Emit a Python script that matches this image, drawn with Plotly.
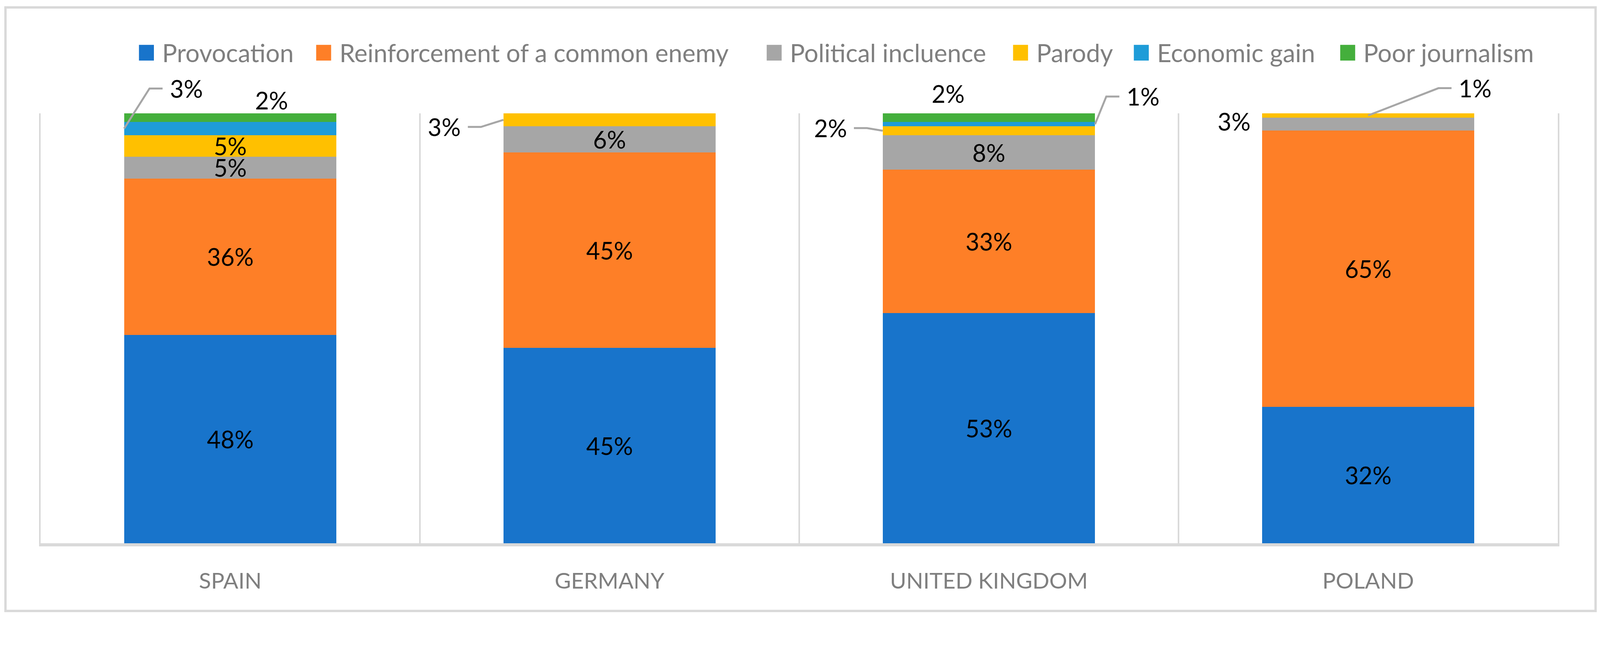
import plotly.graph_objects as go

# data (percent of cases per country)
countries = ["SPAIN", "GERMANY", "UNITED KINGDOM", "POLAND"]
motives = ["Provocation", "Reinforcement of a common enemy", "Political incluence",
           "Parody", "Economic gain", "Poor journalism"]
provocation = [48, 45, 53, 32]
reinforcement = [36, 45, 33, 65]
political = [5, 6, 8, 3]
parody = [5, 3, 2, 1]
economic = [3, 0, 1, 0]
poor_journalism = [2, 0, 2, 0]

series = [provocation, reinforcement, political, parody, economic, poor_journalism]
colors = ["#1874CB", "#FE7F27", "#A6A6A6", "#FFC000", "#1E9CD8", "#44AF3C"]

# labels drawn outside the bars: (series, country) -> (edge, dx, dy, leader line)
outside = {
    (4, 0): ("left", 166, -107, True),
    (5, 0): ("center", 110, -47, False),
    (3, 1): ("left", -158, 19, True),
    (3, 2): ("left", -140, -7, True),
    (4, 2): ("right", 128, -74, True),
    (5, 2): ("center", -109, -64, False),
    (2, 3): ("center", -359, -7, False),
    (3, 3): ("center", 286, -73, True),
}

# layout is measured on the 4279x1658 picture; k maps it to page pixels,
# OFF is the page's body margin
k = 0.957
OFF = 8


def fx(p):
    return p * k - OFF


W, H = fx(4279), fx(1658)
ML, MT = fx(109), fx(303)
pw, ph = (4167 - 109) * k, (1452 - 303) * k
MR, MB = W - ML - pw, H - MT - ph
bargap = 0.44
half_bar = pw / len(countries) * (1 - bargap) / 2
font = "Lato"
grid = "#D9D9D9"
leader = "#A6A6A6"
label_size = round(64 * k)


def px_x(p):
    return (fx(p) - ML) / pw


def px_y(p):
    return 1 + (MT - fx(p)) / ph


fig = go.Figure()
for i, (name, vals) in enumerate(zip(motives, series)):
    txt = []
    for j, v in enumerate(vals):
        txt.append("" if v == 0 or (i, j) in outside else f"{v}%")
    fig.add_trace(go.Bar(x=countries, y=vals, name=name, marker_color=colors[i],
                         marker_line_width=0, text=txt, textposition="inside",
                         insidetextanchor="middle", showlegend=False,
                         textfont=dict(size=label_size, color="black", family=font)))

# segment centres in normalised percent
totals = [sum(s[j] for s in series) for j in range(len(countries))]
annotations = []
shapes = []
for (i, j), (edge, dx, dy, has_leader) in outside.items():
    below = sum(series[n][j] for n in range(i))
    yc = (below + series[i][j] / 2) / totals[j] * 100
    tip = {"left": -half_bar, "right": half_bar, "center": 0}[edge]
    dx, dy = dx * k, dy * k
    annotations.append(dict(x=countries[j], y=yc, text=f"{series[i][j]}%", showarrow=False,
                            xshift=tip + dx, yshift=-dy,
                            font=dict(size=label_size, color="black", family=font)))
    if has_leader:
        # paper refs so the leader is not clipped at the top of the plot area
        side = -1 if dx > 0 else 1
        x_end = tip + dx + side * 63 * k
        x_start = tip + dx + side * 98 * k
        shapes.append(dict(type="path", xref="paper", yref="paper", xsizemode="pixel",
                           ysizemode="pixel", xanchor=(j + 0.5) / len(countries),
                           yanchor=yc / 100,
                           path=f"M {tip:.1f},0 L {x_start:.1f},{-dy:.1f} L {x_end:.1f},{-dy:.1f}",
                           line=dict(color=leader, width=5)))

# legend drawn by hand so the swatches can be as large as in the original
legend_x = [372, 846, 2051, 2710, 3033, 3585]
for name, col, x0 in zip(motives, colors, legend_x):
    shapes.append(dict(type="rect", xref="paper", yref="paper",
                       x0=px_x(x0), x1=px_x(x0 + 40), y0=px_y(162), y1=px_y(120),
                       fillcolor=col, line_width=0))
    annotations.append(dict(xref="paper", yref="paper", x=px_x(x0 + 60), y=px_y(141),
                            xanchor="left", yanchor="middle", text=name, showarrow=False,
                            font=dict(size=round(67 * k), color="#7F7F7F", family=font)))

# chart frame
shapes.append(dict(type="rect", xref="paper", yref="paper",
                   x0=px_x(15), x1=px_x(4268), y0=px_y(1633), y1=px_y(20),
                   line=dict(color=grid, width=6), layer="below"))

fig.update_layout(
    barmode="stack", barnorm="percent", bargap=bargap,
    width=round(W), height=round(H),
    margin=dict(l=ML, r=MR, t=MT, b=MB, autoexpand=False),
    plot_bgcolor="white", paper_bgcolor="white",
    font=dict(family=font),
    annotations=annotations, shapes=shapes,
    uniformtext=dict(minsize=label_size, mode="show"),
    showlegend=False,
    xaxis=dict(type="category", tickson="boundaries", showgrid=True, gridcolor=grid,
               gridwidth=4, showline=True, linecolor=grid, linewidth=8, ticks="",
               tickfont=dict(size=round(60 * k), color="#7F7F7F", family=font),
               ticklabelstandoff=round(42 * k)),
    yaxis=dict(range=[0, 100], showgrid=False, zeroline=False, showticklabels=False,
               showline=True, mirror=True, linecolor=grid, linewidth=4),
)

fig.write_html("out.html")
